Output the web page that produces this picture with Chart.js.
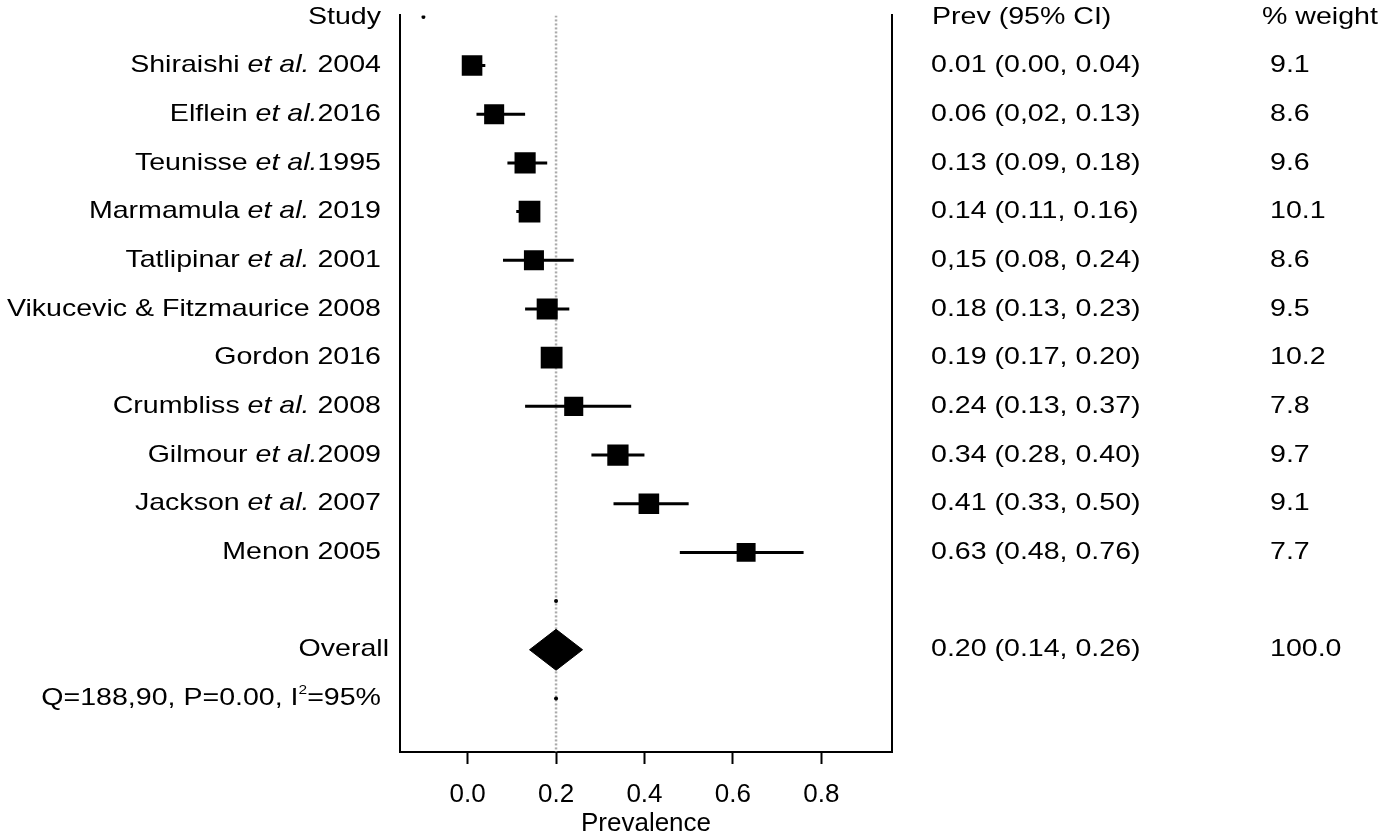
<!DOCTYPE html>
<html>
<head>
<meta charset="utf-8">
<script src="https://cdn.jsdelivr.net/npm/chart.js@4.4.1/dist/chart.umd.min.js"></script>
<style>
  html, body { margin: 0; padding: 0; background: #fff; }
  #forest { display: block; }
</style>
</head>
<body>
<canvas id="forest" width="1384" height="840"></canvas>
<script>
// study labels, *...* marks the italic part
const studies = [
    'Shiraishi *et al.* 2004',
    'Elflein *et al.*2016',
    'Teunisse *et al.*1995',
    'Marmamula *et al.* 2019',
    'Tatlipinar *et al.* 2001',
    'Vikucevic & Fitzmaurice 2008',
    'Gordon 2016',
    'Crumbliss *et al.* 2008',
    'Gilmour *et al.*2009',
    'Jackson *et al.* 2007',
    'Menon 2005'
];
const prev = [0.01, 0.06, 0.13, 0.14, 0.15, 0.18, 0.19, 0.24, 0.34, 0.41, 0.63];
const ciLow = [0.00, 0.02, 0.09, 0.11, 0.08, 0.13, 0.17, 0.13, 0.28, 0.33, 0.48];
const ciHigh = [0.04, 0.13, 0.18, 0.16, 0.24, 0.23, 0.20, 0.37, 0.40, 0.50, 0.76];
const prevText = [
    '0.01 (0.00, 0.04)', '0.06 (0,02, 0.13)', '0.13 (0.09, 0.18)', '0.14 (0.11, 0.16)',
    '0,15 (0.08, 0.24)', '0.18 (0.13, 0.23)', '0.19 (0.17, 0.20)', '0.24 (0.13, 0.37)',
    '0.34 (0.28, 0.40)', '0.41 (0.33, 0.50)', '0.63 (0.48, 0.76)'
];
const weights = [9.1, 8.6, 9.6, 10.1, 8.6, 9.5, 10.2, 7.8, 9.7, 9.1, 7.7];

const overallPrev = 0.20;
const overallLow = 0.14;
const overallHigh = 0.26;
const overallText = '0.20 (0.14, 0.26)';
const overallWeight = '100.0';
const overallRow = 13;

// stray small dots stata leaves behind
const dotX = [-0.10, 0.20, 0.20];
const dotRow = [0, 12, 14];

const xTicks = [0, 0.2, 0.4, 0.6, 0.8];

const FONT = '"Liberation Sans", Arial, Helvetica, sans-serif';
const fontSize = 24;
const stretch = 1.19; // the source text is wider than plain Helvetica

const ciSets = studies.map((s, i) => ({
    type: 'line',
    data: [{ x: ciLow[i], y: i + 1 }, { x: ciHigh[i], y: i + 1 }],
    borderColor: '#000',
    borderWidth: 3,
    pointRadius: 0,
    order: 5
}));

const diamondHalf = 0.42;

const textPlugin = {
    id: 'forestText',
    afterDraw(chart) {
        const ctx = chart.ctx;
        const y = chart.scales.y;
        ctx.save();
        ctx.fillStyle = '#000';
        ctx.textBaseline = 'middle';

        // parts: [[text, italic, size, dy]], anchored at x with align
        function drawParts(parts, x, row, align) {
            const py = y.getPixelForValue(row);
            const widths = parts.map(p => {
                ctx.font = (p[1] ? 'italic ' : '') + (p[2] || fontSize) + 'px ' + FONT;
                return ctx.measureText(p[0]).width;
            });
            const total = widths.reduce((a, b) => a + b, 0);
            ctx.save();
            ctx.translate(x, py);
            ctx.scale(stretch, 1);
            let cx = align === 'right' ? -total : 0;
            ctx.textAlign = 'left';
            parts.forEach((p, k) => {
                ctx.font = (p[1] ? 'italic ' : '') + (p[2] || fontSize) + 'px ' + FONT;
                ctx.fillText(p[0], cx, p[3] || 0);
                cx += widths[k];
            });
            ctx.restore();
        }
        const split = s => s.split('*').map((p, k) => [p, k % 2 === 1]);

        drawParts([['Study', false]], 381, 0, 'right');
        studies.forEach((s, i) => drawParts(split(s), 381, i + 1, 'right'));
        drawParts([['Overall', false]], 389, overallRow, 'right');
        drawParts([['Q=188,90, P=0.00, I', false], ['2', false, 13, -8], ['=95%', false]], 381, 14, 'right');

        // right columns
        drawParts([['Prev (95% CI)', false]], 932, 0, 'left');
        drawParts([['% weight', false]], 1262, 0, 'left');
        prevText.forEach((t, i) => {
            drawParts([[t, false]], 931, i + 1, 'left');
            drawParts([[weights[i].toFixed(1), false]], 1270, i + 1, 'left');
        });
        drawParts([[overallText, false]], 931, overallRow, 'left');
        drawParts([[overallWeight, false]], 1270, overallRow, 'left');
        ctx.restore();
    }
};

const yMin = -0.03;
const yMax = 15.1;
const yScale = {
    type: 'linear',
    reverse: true,
    min: yMin,
    max: yMax,
    ticks: { display: false },
    grid: { display: false, drawTicks: false },
    border: { display: true, color: '#000', width: 2 }
};

new Chart(document.getElementById('forest').getContext('2d'), {
    type: 'scatter',
    data: {
        datasets: [
            {
                type: 'line',
                data: [{ x: overallPrev, y: yMin }, { x: overallPrev, y: yMax }],
                borderColor: '#ababab',
                borderWidth: 2.5,
                borderDash: [2, 2],
                pointRadius: 0,
                order: 10
            },
            ...ciSets,
            {
                data: prev.map((p, i) => ({ x: p, y: i + 1 })),
                pointStyle: 'rect',
                pointRadius: weights.map(w => 10.3 * Math.sqrt(w / 9.1) * Math.SQRT2),
                backgroundColor: '#000',
                borderColor: '#000',
                borderWidth: 0,
                order: 1
            },
            {
                type: 'line',
                data: [
                    { x: overallLow, y: overallRow },
                    { x: overallPrev, y: overallRow - diamondHalf },
                    { x: overallHigh, y: overallRow },
                    { x: overallPrev, y: overallRow + diamondHalf },
                    { x: overallLow, y: overallRow }
                ],
                borderColor: '#000',
                borderWidth: 1,
                backgroundColor: '#000',
                fill: 'shape',
                tension: 0,
                pointRadius: 0,
                order: 1
            },
            {
                data: dotX.map((x, i) => ({ x: x, y: dotRow[i] })),
                pointRadius: 2,
                backgroundColor: '#000',
                borderWidth: 0,
                order: 1
            }
        ]
    },
    options: {
        responsive: false,
        animation: false,
        layout: { padding: { left: 400, right: 492, top: 12, bottom: 0.6 } },
        plugins: {
            legend: { display: false },
            tooltip: { enabled: false }
        },
        scales: {
            x: {
                type: 'linear',
                min: -0.153,
                max: 0.96,
                afterBuildTicks: s => { s.ticks = xTicks.map(v => ({ value: v })); },
                ticks: {
                    color: '#000',
                    font: { family: FONT, size: 26 },
                    padding: 15,
                    autoSkip: false,
                    maxRotation: 0,
                    callback: v => v.toFixed(1)
                },
                grid: { drawOnChartArea: false, drawTicks: true, tickLength: 12, tickWidth: 2, tickColor: '#000' },
                border: { display: true, color: '#000', width: 2 },
                title: {
                    display: true,
                    text: 'Prevalence',
                    color: '#000',
                    font: { family: FONT, size: 26 },
                    padding: { top: -17, bottom: 0 }
                }
            },
            y: Object.assign({ position: 'left' }, yScale),
            y2: Object.assign({ position: 'right' }, yScale)
        }
    },
    plugins: [textPlugin]
});
</script>
</body>
</html>
